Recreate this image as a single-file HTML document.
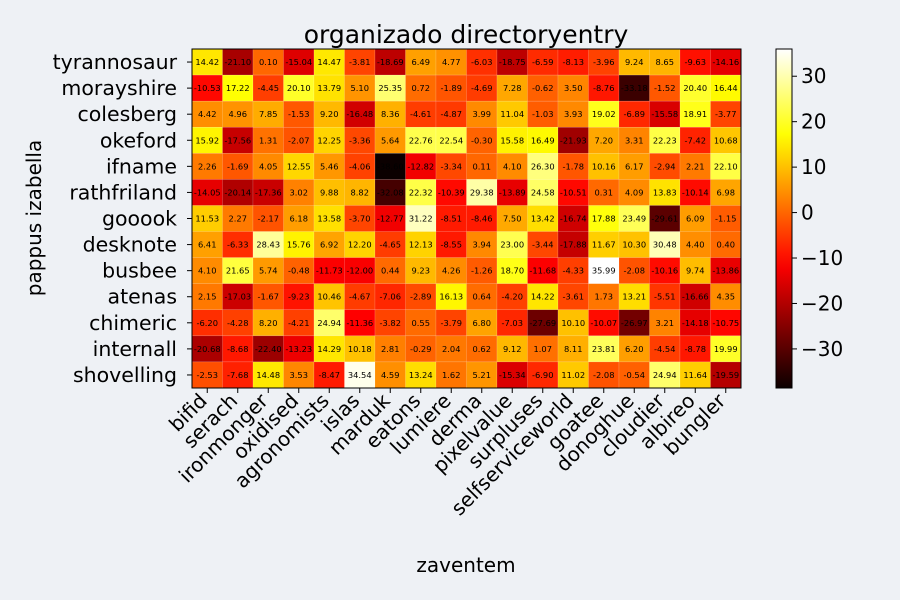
<!DOCTYPE html>
<html><head><meta charset="utf-8"><style>
body{margin:0;background:#eef1f5;}
svg{display:block;font-family:"DejaVu Sans","Liberation Sans",sans-serif;}
</style></head><body>
<svg id="chart" width="900" height="600"></svg>
<script>
const rowLabels=["tyrannosaur","morayshire","colesberg","okeford","ifname","rathfriland","gooook","desknote","busbee","atenas","chimeric","internall","shovelling"];
const colLabels=["bifid","serach","ironmonger","oxidised","agronomists","islas","marduk","eatons","lumiere","derma","pixelvalue","surpluses","selfserviceworld","goatee","donoghue","cloudier","albireo","bungler"];
const r0=[14.42,-21.10,0.10,-15.04,14.47,-3.81,-18.69,6.49,4.77,-6.03,-18.75,-6.59,-8.13,-3.96,9.24,8.65,-9.63,-14.16];
const r1=[-10.53,17.22,-4.45,20.10,13.79,5.10,25.35,0.72,-1.89,-4.69,7.28,-0.62,3.50,-8.76,-33.18,-1.52,20.40,16.44];
const r2=[4.42,4.96,7.85,-1.53,9.20,-16.48,8.36,-4.61,-4.87,3.99,11.04,-1.03,3.93,19.02,-6.89,-15.58,18.91,-3.77];
const r3=[15.92,-17.56,1.31,-2.07,12.25,-3.36,5.64,22.76,22.54,-0.30,15.58,16.49,-21.93,7.20,3.31,22.23,-7.42,10.68];
const r4=[2.26,-1.69,4.05,12.55,5.46,-4.06,-38.60,-12.82,-3.34,0.11,4.10,26.30,-1.78,10.16,6.17,-2.94,2.21,22.10];
const r5=[-14.05,-20.14,-17.36,3.02,9.88,8.82,-32.08,22.32,-10.39,29.38,-13.89,24.58,-10.51,0.31,4.09,13.83,-10.14,6.98];
const r6=[11.53,2.27,-2.17,6.18,13.58,-3.70,-12.77,31.22,-8.51,-8.46,7.50,13.42,-16.74,17.88,23.49,-29.61,6.09,-1.15];
const r7=[6.41,-6.33,28.43,15.76,6.92,12.20,-4.65,12.13,-8.55,3.94,23.00,-3.44,-17.88,11.67,10.30,30.48,4.40,0.40];
const r8=[4.10,21.65,5.74,-0.48,-11.73,-12.00,0.44,9.23,4.26,-1.26,18.70,-11.68,-4.33,35.99,-2.08,-10.16,9.74,-13.86];
const r9=[2.15,-17.03,-1.67,-9.23,10.46,-4.67,-7.06,-2.89,16.13,0.64,-4.20,14.22,-3.61,1.73,13.21,-5.51,-16.66,4.35];
const r10=[-6.20,-4.28,8.20,-4.21,24.94,-11.36,-3.82,0.55,-3.79,6.80,-7.03,-27.69,10.10,-10.07,-26.97,3.21,-14.18,-10.75];
const r11=[-20.68,-8.68,-22.40,-13.23,14.29,10.18,2.81,-0.29,2.04,0.62,9.12,1.07,8.11,23.81,6.20,-4.54,-8.78,19.99];
const r12=[-2.53,-7.68,14.48,3.53,-8.47,34.54,4.59,13.24,1.62,5.21,-15.34,-6.90,11.02,-2.08,-0.54,24.94,11.64,-19.59];
const values=[r0,r1,r2,r3,r4,r5,r6,r7,r8,r9,r10,r11,r12];
const cbTicks=[30,20,10,0,-10,-20,-30];

const NS="http://www.w3.org/2000/svg";
const svg=document.getElementById('chart');
function mk(tag,attrs,parent){const e=document.createElementNS(NS,tag);for(const k in attrs)e.setAttribute(k,attrs[k]);(parent||svg).appendChild(e);return e;}
const L=192,R=741,T=49,B=388;
const nC=colLabels.length,nR=rowLabels.length;
const cw=(R-L)/nC,rh=(B-T)/nR;
const all=values.flat();
const vmin=Math.min(...all),vmax=Math.max(...all);
function norm(v){return (v-vmin)/(vmax-vmin);}
function hot(t){t=Math.max(0,Math.min(1,t));
 const r=Math.min(1,0.0416+t/0.365079*(1-0.0416));
 const g=Math.max(0,Math.min(1,(t-0.365079)/(0.746032-0.365079)));
 const b=Math.max(0,Math.min(1,(t-0.746032)/(1-0.746032)));
 return `rgb(${Math.round(r*255)},${Math.round(g*255)},${Math.round(b*255)})`;}
function xAt(i){return L+i*cw;}
function yAt(j){return T+j*rh;}

const cells=mk('g',{});


for(let j=0;j<nR;j++)for(let i=0;i<nC;i++){
 const v=values[j][i];
 const c=mk('rect',{x:xAt(i),y:yAt(j),width:cw,height:rh,fill:hot(norm(v)),stroke:'rgba(255,255,255,0.25)','stroke-width':0.5},cells);
 
 
 const t=mk('text',{x:xAt(i)+cw/2,y:yAt(j)+rh/2+3,'text-anchor':'middle','font-size':8.3,fill:'#000'},cells);
 
 
 t.textContent=v.toFixed(2);
}
const frame=mk('rect',{x:L,y:T,width:R-L,height:B-T,fill:'none',stroke:'#000','stroke-width':1});



for(let j=0;j<nR;j++){
 const y=yAt(j)+rh/2;
 mk('line',{x1:L-5,x2:L,y1:y,y2:y,stroke:'#000'});
 const t=mk('text',{x:L-15,y:y+7,'text-anchor':'end','font-size':20.5,fill:'#000'});
 
 
 t.textContent=rowLabels[j];
}
for(let i=0;i<nC;i++){
 const x=xAt(i)+cw/2;
 mk('line',{x1:x,x2:x,y1:B,y2:B+5,stroke:'#000'});
 const ax=x+1,ay=B+14;
 const t=mk('text',{x:ax,y:ay,'text-anchor':'end','font-size':20,fill:'#000',transform:`rotate(-45 ${ax} ${ay})`});
 
 
 t.textContent=colLabels[i];
}
const title=mk('text',{x:466,y:43,'text-anchor':'middle','font-size':25,fill:'#000'});


title.textContent='organizado directoryentry';
const xl=mk('text',{x:466,y:572,'text-anchor':'middle','font-size':20,fill:'#000'});


xl.textContent='zaventem';
const yl=mk('text',{x:41,y:218,'text-anchor':'middle','font-size':20,fill:'#000',transform:'rotate(-90 41 218)'});


yl.textContent='pappus izabella';

const CL=776,CR=792;
const defs=mk('defs',{});
const grad=mk('linearGradient',{id:'cg',x1:0,y1:1,x2:0,y2:0},defs);
for(let k=0;k<=20;k++){mk('stop',{offset:k/20,'stop-color':hot(k/20)},grad);}
const cb=mk('rect',{x:CL,y:T,width:CR-CL,height:B-T,fill:'url(#cg)',stroke:'#000','stroke-width':1});


cbTicks.forEach(v=>{
 const y=B-(v-vmin)/(vmax-vmin)*(B-T);
 mk('line',{x1:CR,x2:CR+5,y1:y,y2:y,stroke:'#000'});
 const t=mk('text',{x:CR+9,y:y+7,'font-size':20,fill:'#000'});
 
 
 t.textContent=v<0?'\u2212'+Math.abs(v):String(v);
});
</script>
</body></html>
